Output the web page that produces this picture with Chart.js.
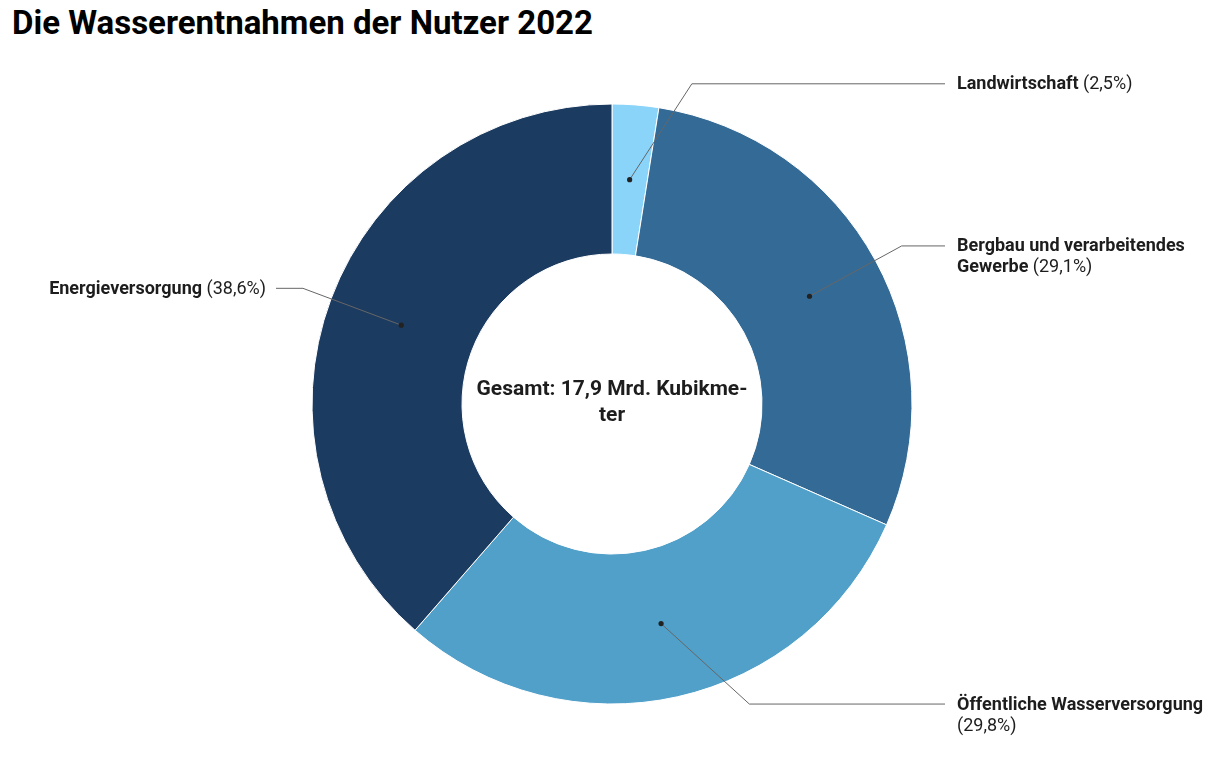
<!DOCTYPE html>
<html>
<head>
<meta charset="utf-8">
<script src="https://cdn.jsdelivr.net/npm/chart.js@4"></script>
<style>
  html, body { margin: 0; padding: 0; background: #fff; }
  #wrap { position: relative; width: 1216px; height: 764px; }
  #title { position: absolute; left: 12px; top: 3px; font: bold 33px Roboto, sans-serif; color: #000; }
  canvas { position: absolute; left: 0; top: 0; }
</style>
</head>
<body>
<div id="wrap">
  <div id="title">Die Wasserentnahmen der Nutzer 2022</div>
  <canvas id="myChart" width="1216" height="764"></canvas>
</div>
<script>
// Anteile der Nutzer an der Wasserentnahme (Prozent)
const categories = ['Landwirtschaft', 'Bergbau und verarbeitendes Gewerbe', 'Öffentliche Wasserversorgung', 'Energieversorgung']
const shares = [2.5, 29.1, 29.8, 38.6]
const shareLabels = ['2,5%', '29,1%', '29,8%', '38,6%']
const colors = ['#8ad4fa', '#346a96', '#50a0ca', '#1c3b60']
const centerText = ['Gesamt: 17,9 Mrd. Kubikme-', 'ter']

// label layout: line breaks + small angle nudges for the elbow
const labelLines = [
  [['Landwirtschaft', ' (2,5%)']],
  [['Bergbau und verarbeitendes', ''], ['Gewerbe', ' (29,1%)']],
  [['Öffentliche Wasserversorgung', ''], ['', '(29,8%)']],
  [['Energieversorgung', ' (38,6%)']]
]
const elbowNudge = [9.5, 0, -12, 0]

const leaderLabels = {
  id: 'leaderLabels',
  afterDraw(chart) {
    const ctx = chart.ctx
    const meta = chart.getDatasetMeta(0)
    meta.data.forEach((arc, i) => {
      const p = arc.getProps(['x', 'y', 'startAngle', 'endAngle', 'innerRadius', 'outerRadius'], true)
      const mid = (p.startAngle + p.endAngle) / 2
      const rDot = (p.innerRadius + p.outerRadius) / 2
      const dx = p.x + Math.cos(mid) * rDot
      const dy = p.y + Math.sin(mid) * rDot
      const a2 = mid + elbowNudge[i] * Math.PI / 180
      const rElb = p.outerRadius + 30
      const ex = p.x + Math.cos(a2) * rElb
      const ey = p.y + Math.sin(a2) * rElb
      const right = ex > p.x
      const lineEnd = right ? 945 : 276
      const textX = right ? 957 : 266

      ctx.save()
      ctx.strokeStyle = '#666'
      ctx.lineWidth = 1
      ctx.beginPath()
      ctx.moveTo(dx, dy)
      ctx.lineTo(ex, ey)
      ctx.lineTo(lineEnd, ey)
      ctx.stroke()
      ctx.fillStyle = '#222'
      ctx.beginPath()
      ctx.arc(dx, dy, 2.6, 0, Math.PI * 2)
      ctx.fill()

      ctx.textBaseline = 'middle'
      ctx.fillStyle = '#1d1d1d'
      labelLines[i].forEach((ln, k) => {
        const y = ey + 1 + k * 21
        ctx.font = 'bold 18px Roboto'
        const wb = ctx.measureText(ln[0]).width
        ctx.font = '18px Roboto'
        const wn = ctx.measureText(ln[1]).width
        let x = right ? textX : textX - wb - wn
        ctx.textAlign = 'left'
        ctx.font = 'bold 18px Roboto'
        ctx.fillText(ln[0], x, y)
        ctx.font = '18px Roboto'
        ctx.fillText(ln[1], x + wb, y)
      })
      ctx.restore()
    })

    // Text in der Mitte
    const a0 = meta.data[0]
    ctx.save()
    ctx.font = 'bold 21px Roboto'
    ctx.fillStyle = '#1d1d1d'
    ctx.textAlign = 'center'
    ctx.textBaseline = 'middle'
    centerText.forEach((t, k) => {
      ctx.fillText(t, a0.x, a0.y - 14 + k * 26)
    })
    ctx.restore()
  }
}

var ctx = document.getElementById('myChart')
var myChart = new Chart(ctx, {
  type: 'doughnut',
  data: {
    labels: categories,
    datasets: [{
      data: shares,
      backgroundColor: colors,
      borderColor: '#ffffff',
      borderWidth: 1
    }]
  },
  options: {
    responsive: false,
    animation: false,
    radius: 300,
    cutout: '50%',
    layout: { padding: { left: 8, right: 0, top: 44, bottom: 0 } },
    plugins: {
      legend: { display: false },
      tooltip: { enabled: false }
    }
  },
  plugins: [leaderLabels]
})
</script>
</body>
</html>
